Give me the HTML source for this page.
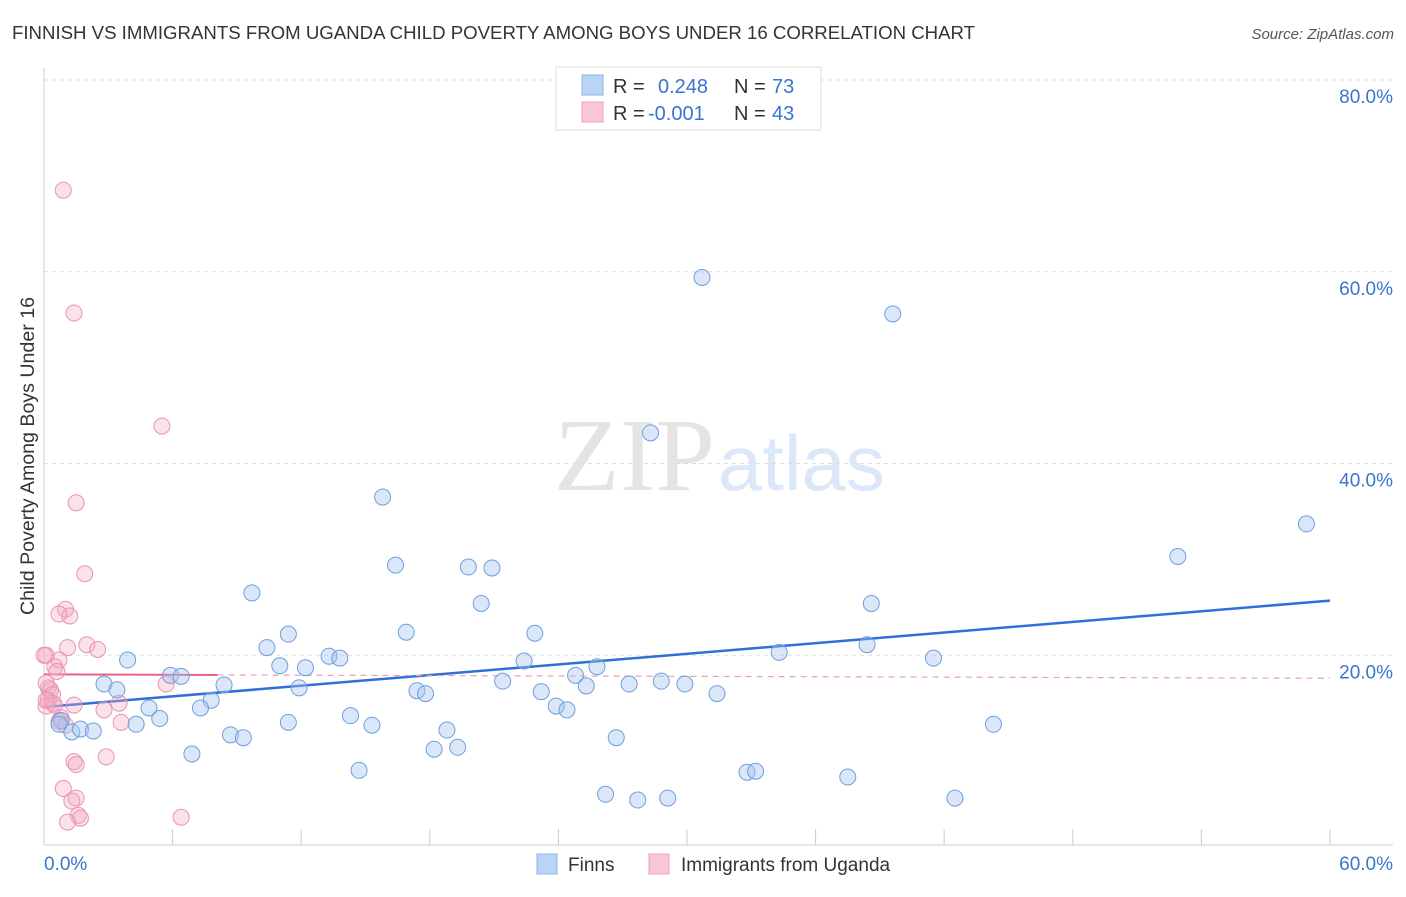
<!DOCTYPE html>
<html><head><meta charset="utf-8"><style>
body{margin:0;background:#fff;font-family:"Liberation Sans",sans-serif;}
svg text{font-family:"Liberation Sans",sans-serif;}
</style></head><body>
<svg id="chart" width="1406" height="892" xmlns="http://www.w3.org/2000/svg">
<text x="12" y="39" font-size="18.7" fill="#333" textLength="963" lengthAdjust="spacingAndGlyphs">FINNISH VS IMMIGRANTS FROM UGANDA CHILD POVERTY AMONG BOYS UNDER 16 CORRELATION CHART</text>
<text x="1394" y="39" font-size="15" fill="#555" text-anchor="end" font-style="italic">Source: ZipAtlas.com</text>
<text x="34" y="456" font-size="19" fill="#333" text-anchor="middle" transform="rotate(-90 34 456)" textLength="318" lengthAdjust="spacingAndGlyphs">Child Poverty Among Boys Under 16</text>
<g><text x="554" y="490" font-size="104" fill="#e4e4e4" style="font-family:'Liberation Serif',serif" textLength="161" lengthAdjust="spacingAndGlyphs">ZIP</text><text x="718" y="490" font-size="78" fill="#dce8f7" textLength="167" lengthAdjust="spacingAndGlyphs">atlas</text></g>
<g id="grid"></g><g id="axes"></g><g id="trend"></g><g id="pts"></g>
<g>
<rect x="556" y="67" width="265" height="63" fill="#fff" stroke="#ddd"/>
<rect x="582" y="75" width="21" height="20" fill="#b9d4f5" stroke="#8ab4e8"/>
<rect x="582" y="102" width="21" height="20" fill="#f9c6d4" stroke="#f0a0b8"/>
<text x="613" y="93" font-size="20" fill="#333">R =</text><text x="658" y="93" font-size="20" fill="#3a74d0">0.248</text>
<text x="734" y="93" font-size="20" fill="#333">N =</text><text x="772" y="93" font-size="20" fill="#3a74d0">73</text>
<text x="613" y="120" font-size="20" fill="#333">R =</text><text x="648" y="120" font-size="20" fill="#3a74d0">-0.001</text>
<text x="734" y="120" font-size="20" fill="#333">N =</text><text x="772" y="120" font-size="20" fill="#3a74d0">43</text>
</g>
<g>
<rect x="537" y="854" width="20" height="20" fill="#b9d4f5" stroke="#8ab4e8"/>
<text x="568" y="871" font-size="19" fill="#333">Finns</text>
<rect x="649" y="854" width="20" height="20" fill="#f9c6d4" stroke="#f0a0b8"/>
<text x="681" y="871" font-size="19" fill="#333">Immigrants from Uganda</text>
</g>
</svg>
<script>
const yTicks=[20,40,60,80];
const yTickLabels=["20.0%","40.0%","60.0%","80.0%"];
const xTickCount=[0,6,12,18,24,30,36,42,48,54,60];
const finnsX=[30.7,39.6,28.3,15.8,58.9,52.9,16.4,19.8,20.9,9.7,20.4,38.6,11.4,16.9,22.9,10.4,13.3,13.8,3.9,34.3,38.4,41.5,22.4,11.0,12.2,25.8,5.9,6.4,24.8,21.4,28.8,29.9,27.3,25.3,8.4,2.8,3.4,11.9,17.4,17.8,23.2,31.4,7.8,23.9,24.4,7.3,4.9,5.4,14.3,4.3,11.4,0.8,0.7,1.3,1.7,2.3,15.3,18.8,44.3,8.7,9.3,26.7,19.3,18.2,6.9,14.7,32.8,33.2,37.5,26.2,29.1,27.7,42.5];
const finnsY=[59.4,55.6,43.2,36.5,33.7,30.3,29.4,29.2,29.1,26.5,25.4,25.4,22.2,22.4,22.3,20.8,19.9,19.7,19.5,20.3,21.1,19.7,19.4,18.9,18.7,18.8,17.9,17.8,17.9,17.3,17.3,17.0,17.0,16.8,16.9,17.0,16.4,16.6,16.3,16.0,16.2,16.0,15.3,14.7,14.3,14.5,14.5,13.4,13.7,12.8,13.0,13.2,12.8,12.0,12.3,12.1,12.7,12.2,12.8,11.7,11.4,11.4,10.4,10.2,9.7,8.0,7.8,7.9,7.3,5.5,5.1,4.9,5.1];
const ugX=[0.9,1.4,5.5,1.5,1.9,1.0,1.2,0.7,1.1,2.0,2.5,0.7,0.5,0.1,0.6,0.2,0.3,5.7,1.4,2.8,3.5,0.2,0.1,0.4,0.8,0.7,3.6,1.0,2.9,1.4,1.5,0.9,1.5,1.3,1.6,1.7,1.1,6.4,0.1,0.0,0.4,0.5,0.1];
const ugY=[68.5,55.7,43.9,35.9,28.5,24.8,24.1,24.3,20.8,21.1,20.6,19.5,18.8,20.0,18.3,16.6,16.4,17.0,14.8,14.3,15.0,15.3,14.7,15.0,13.5,13.1,13.0,12.7,9.4,8.9,8.6,6.1,5.1,4.8,3.3,3.0,2.6,3.1,17.1,20.0,15.9,14.8,15.3];
const finnsTrend=[14.6,25.7];
const ugTrend=[18.0,17.6];
const ugSolidEnd=8.1;
const NS="http://www.w3.org/2000/svg";
const X0=44,X1=1330,Y0=847,Y1=80;
function xs(v){return X0+(v/60)*(X1-X0);}
function ys(v){return Y0-(v/80)*(Y0-Y1);}
function mk(tag,attrs,parent){const e=document.createElementNS(NS,tag);for(const k in attrs)e.setAttribute(k,attrs[k]);document.getElementById(parent).appendChild(e);return e;}
yTicks.forEach((t,i)=>{
 const g=mk('line',{x1:44,x2:1393,y1:ys(t),y2:ys(t),stroke:'#ddd','stroke-dasharray':'4,4'},'grid');
 
 
 const l=mk('text',{x:1393,y:ys(t)+23,'font-size':19,fill:'#3a74d0','text-anchor':'end'},'grid');
 l.textContent=yTickLabels[i];
 
 
});
const ax=mk('line',{x1:44,x2:44,y1:68,y2:845,stroke:'#ccc'},'axes');


const bx=mk('line',{x1:44,x2:1393,y1:845,y2:845,stroke:'#ccc'},'axes');


xTickCount.forEach(t=>{
 const k=mk('line',{x1:xs(t),x2:xs(t),y1:829,y2:845,stroke:'#ccc'},'axes');
 
 
});
[[0,"0.0%",'start',44],[60,"60.0%",'end',1393]].forEach(a=>{
 const t=mk('text',{x:a[3],y:870,'font-size':19,fill:'#3a74d0','text-anchor':a[2]},'axes');
 t.textContent=a[1];
 
 
});
const ft=mk('line',{x1:xs(0),x2:xs(60),y1:ys(finnsTrend[0]),y2:ys(finnsTrend[1]),stroke:'#2f6fd6','stroke-width':2.5},'trend');


const um=ugTrend[0]+(ugTrend[1]-ugTrend[0])*ugSolidEnd/60;
const us=mk('line',{x1:xs(0),x2:xs(ugSolidEnd),y1:ys(ugTrend[0]),y2:ys(um),stroke:'#e8608a','stroke-width':2},'trend');


const ud=mk('line',{x1:xs(ugSolidEnd),x2:xs(60),y1:ys(um),y2:ys(ugTrend[1]),stroke:'#e8a0b6','stroke-width':1.2,'stroke-dasharray':'6,5'},'trend');


ugX.forEach((v,i)=>{
 const c=mk('circle',{cx:xs(v),cy:ys(ugY[i]),r:8,fill:'rgba(244,170,195,0.35)',stroke:'#eb93b0','stroke-width':1},'pts');
 
 
});
finnsX.forEach((v,i)=>{
 const c=mk('circle',{cx:xs(v),cy:ys(finnsY[i]),r:8,fill:'rgba(160,195,240,0.4)',stroke:'#6f9fdc','stroke-width':1},'pts');
 
 
});
</script>
</body></html>
